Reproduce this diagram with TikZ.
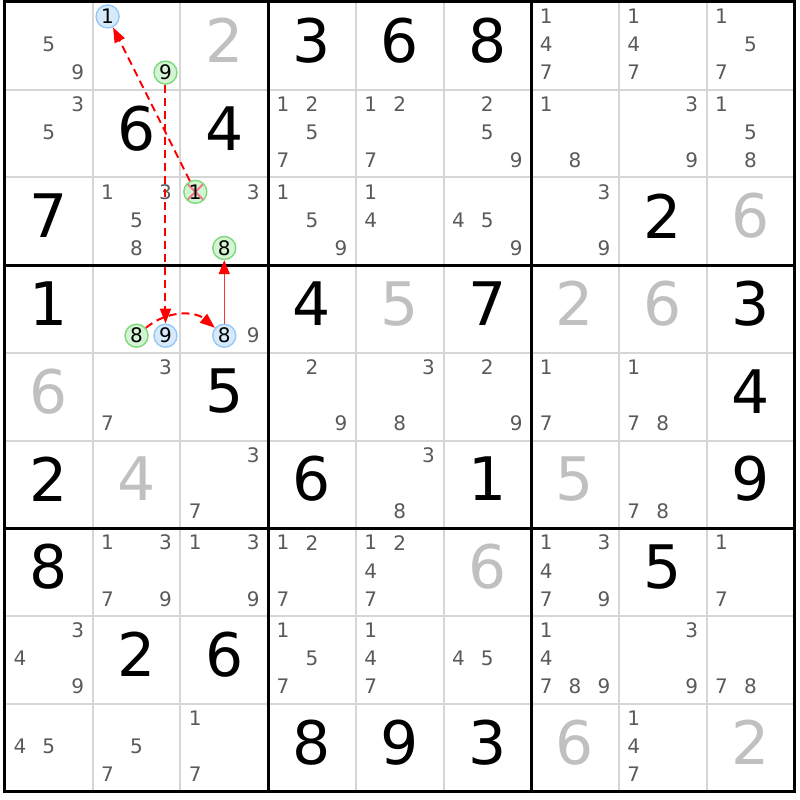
\documentclass[tikz,border=0pt]{standalone}
\usepackage{fontspec}
\setmainfont{DejaVu Sans}
\usetikzlibrary{arrows.meta}
\definecolor{gridgray}{RGB}{214,214,214}
\definecolor{givengray}{RGB}{192,192,192}
\definecolor{pencil}{RGB}{90,90,90}
\definecolor{bluefill}{RGB}{214,234,252}
\definecolor{blueline}{RGB}{150,200,245}
\definecolor{greenfill}{RGB}{212,245,212}
\definecolor{greenline}{RGB}{125,215,125}
\definecolor{strike}{RGB}{240,120,130}

\begin{document}
\begin{tikzpicture}[x=87.7pt,y=-87.7pt,
    solved/.style={font=\fontsize{60}{61}\selectfont,inner sep=0pt},
    given/.style={solved,text=givengray},
    cand/.style={font=\fontsize{20}{21}\selectfont,inner sep=0pt,text=pencil},
    oncand/.style={circle,draw=blueline,fill=bluefill,line width=1.4pt,minimum size=23pt,
      inner sep=0pt,font=\fontsize{20}{21}\selectfont},
    offcand/.style={oncand,draw=greenline,fill=greenfill},
    crossed/.style={offcand,path picture={\draw[strike,line width=2pt]
      ([shift={(-8pt,-8pt)}]path picture bounding box.center) -- ([shift={(8pt,8pt)}]path picture bounding box.center)
      ([shift={(-8pt,8pt)}]path picture bounding box.center) -- ([shift={(8pt,-8pt)}]path picture bounding box.center);}},
    chain/.style={-{Triangle[length=15pt,width=11pt]},red,line width=2pt,dash pattern=on 8pt off 5pt},
    link/.style={-{Triangle[length=14pt,width=11pt,color=red]},red!80,line width=1.5pt}]
    \useasboundingbox (-5pt,2pt) rectangle (795pt,-798pt);
    % grid
    \foreach \i in {1,2,4,5,7,8} {
      \draw[gridgray,line width=2pt] (\i,0) -- (\i,9);
      \draw[gridgray,line width=2pt] (0,\i) -- (9,\i);
    }
    \foreach \i in {0,3,6,9} {
      \draw[line width=3pt,line cap=rect] (\i,0) -- (\i,9);
      \draw[line width=3pt,line cap=rect] (0,\i) -- (9,\i);
    }
    % digits
    \foreach \r/\c/\d in {1/4/3,1/5/6,1/6/8,2/2/6,2/3/4,3/1/7,3/8/2,4/1/1,4/4/4,4/6/7,4/9/3,
        5/3/5,5/9/4,6/1/2,6/4/6,6/6/1,6/9/9,7/1/8,7/8/5,8/2/2,8/3/6,9/4/8,9/5/9,9/6/3}
      \node[solved] (digit-\r-\c) at (\c-0.5,\r-0.56) {\d};
    \foreach \r/\c/\d in {1/3/2,3/9/6,4/5/5,4/7/2,4/8/6,5/1/6,6/2/4,6/7/5,7/6/6,9/7/6,9/9/2}
      \node[given] (digit-\r-\c) at (\c-0.5,\r-0.56) {\d};
    % candidates
    \foreach \r/\c/\list in {1/1/{5,9},1/7/{1,4,7},1/8/{1,4,7},1/9/{1,5,7},
        2/1/{3,5},2/4/{1,2,5,7},2/5/{1,2,7},2/6/{2,5,9},2/7/{1,8},2/8/{3,9},2/9/{1,5,8},
        3/2/{1,3,5,8},3/3/{3},3/4/{1,5,9},3/5/{1,4},3/6/{4,5,9},3/7/{3,9},
        4/3/{9},
        5/2/{3,7},5/4/{2,9},5/5/{3,8},5/6/{2,9},5/7/{1,7},5/8/{1,7,8},
        6/3/{3,7},6/5/{3,8},6/8/{7,8},
        7/2/{1,3,7,9},7/3/{1,3,9},7/4/{1,2,7},7/5/{1,2,4,7},7/7/{1,3,4,7,9},7/9/{1,7},
        8/1/{3,4,9},8/4/{1,5,7},8/5/{1,4,7},8/6/{4,5},8/7/{1,4,7,8,9},8/8/{3,9},8/9/{7,8},
        9/1/{4,5},9/2/{5,7},9/3/{1,7},9/8/{1,4,7}}
      \foreach \d in \list {
        \pgfmathtruncatemacro\dx{mod(\d-1,3)}
        \pgfmathtruncatemacro\dy{int((\d-1)/3)}
        \node[cand] (cand-\r-\c-\d) at (\c-0.83+0.33*\dx,\r-0.835+0.32*\dy) {\d};
      }
    \node[oncand] (cand-1-2-1) at (1.17,0.165) {1};
    \node[offcand] (cand-1-2-9) at (1.83,0.805) {9};
    \node[crossed] (cand-3-3-1) at (2.17,2.165) {1};
    \node[offcand] (cand-3-3-8) at (2.5,2.805) {8};
    \node[offcand] (cand-4-2-8) at (1.5,3.805) {8};
    \node[oncand] (cand-4-2-9) at (1.83,3.805) {9};
    \node[oncand] (cand-4-3-8) at (2.5,3.805) {8};
    % chain
    \draw[chain] (cand-3-3-1) -- (cand-1-2-1);
    \draw[chain] (cand-1-2-9) -- (cand-4-2-9);
    \draw[chain] (cand-4-2-8) to[bend left=40] (cand-4-3-8);
    \draw[link] (cand-4-3-8) -- (cand-3-3-8);
\end{tikzpicture}
\end{document}
